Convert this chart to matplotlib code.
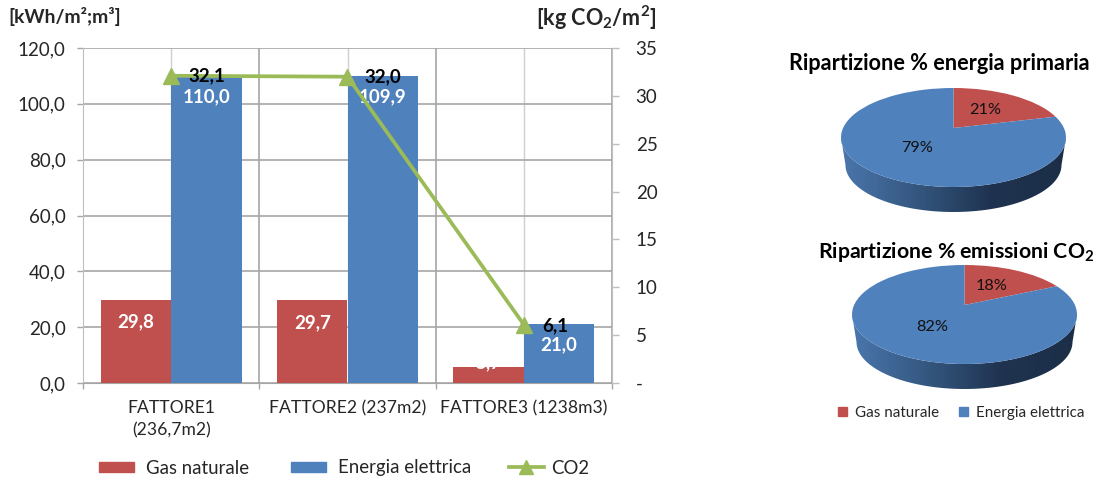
#!/usr/bin/env python
"""Consumi per fattore (barre + CO2) e due torte 3D di ripartizione."""
import numpy as np
import matplotlib
matplotlib.use("Agg")
import matplotlib.pyplot as plt
from matplotlib.colors import LinearSegmentedColormap
from matplotlib.lines import Line2D
from matplotlib.patches import Patch, Polygon
from matplotlib.transforms import Transform

plt.rcParams["font.family"] = ["Lato", "DejaVu Sans"]
plt.rcParams["mathtext.default"] = "regular"

W, H = 1097, 479
RED, BLUE, GREEN = "#C0504D", "#4F81BD", "#9BBB59"
TXT = "#262626"

categories = ["FATTORE1\n(236,7m2)", "FATTORE2 (237m2)", "FATTORE3 (1238m3)"]
gas = [29.8, 29.7, 5.7]
elettrica = [110.0, 109.9, 21.0]
co2 = [32.1, 32.0, 6.1]
left_ticks = [0, 20, 40, 60, 80, 100, 120]
left_labels = ["0,0", "20,0", "40,0", "60,0", "80,0", "100,0", "120,0"]
right_ticks = [0, 5, 10, 15, 20, 25, 30, 35]
right_labels = ["-", "5", "10", "15", "20", "25", "30", "35"]
pie_primaria = [21, 79]
pie_emissioni = [18, 82]


def lab(v):
    return f"{v:.1f}".replace(".", ",")


class Tilt(Transform):
    """Unit disc -> pixel coords, with the perspective of a tilted 3D pie."""
    input_dims = output_dims = 2
    has_inverse = False

    def __init__(self, cx, cy, rx=112.5, ry=49.5, apex=9.5):
        super().__init__()
        self.cx, self.cy, self.rx, self.ry, self.apex = cx, cy, rx, ry, apex
        self.c = apex / ry

    def transform_non_affine(self, values):
        values = np.asarray(values, dtype=float)
        u, v = values[:, 0], values[:, 1]
        den = 1 + self.c * v
        d = self.rx * np.sqrt(1 - self.c ** 2)
        x = self.cx + d * u / den
        y = self.cy - (self.ry * v + self.apex) / den
        return np.column_stack([x, y])


fig = plt.figure(figsize=(W / 100, H / 100), dpi=100)
ax = fig.add_axes([83 / W, 1 - 383 / H, (612 - 83) / W, (383 - 48) / H])
x = np.arange(3) + 0.5

ax.bar(x - 0.4, gas, 0.4, align="edge", color=RED, zorder=3)
ax.bar(x, elettrica, 0.4, align="edge", color=BLUE, zorder=3)
ax.set_xlim(0, 3)
ax.set_ylim(0, 120)
ax.set_yticks(left_ticks)
ax.set_yticklabels(left_labels)
ax.set_xticks([0, 1, 2, 3])
ax.set_xticklabels([])
ax.set_xticks(x, minor=True)
ax.set_xticklabels(categories, minor=True)
ax.grid(True, which="major", color="#A6A6A6", lw=1.2, zorder=0)
ax.grid(True, which="minor", axis="x", color="#CFCFCF", lw=1, zorder=0)
ax.tick_params(axis="x", which="major", length=4.5, color="#A6A6A6", width=1)
ax.tick_params(axis="x", which="minor", length=0, pad=12.5, labelsize=12.6, labelcolor=TXT)
ax.tick_params(axis="y", length=4, color="#A6A6A6", width=1, pad=8.5, labelsize=13.5, labelcolor=TXT)
for s in ax.spines.values():
    s.set_color("#BFBFBF")
ax.spines["top"].set_visible(False)
ax.spines["right"].set_visible(False)
ax.spines["bottom"].set_color("#A6A6A6")
ax.set_axisbelow(True)
for lbl in ax.get_xticklabels(minor=True):
    lbl.set_verticalalignment("top")
    lbl.set_linespacing(1.45)

ax2 = ax.twinx()
ax2.set_ylim(0, 35)
ax2.set_yticks(right_ticks)
ax2.set_yticklabels(right_labels)
ax2.tick_params(axis="y", length=5, color="#BFBFBF", width=1, pad=12, labelsize=13.5, labelcolor=TXT)
for s in ax2.spines.values():
    s.set_visible(False)
ax2.spines["right"].set_visible(True)
ax2.spines["right"].set_color("#BFBFBF")
ax2.plot(x, co2, "-^", color=GREEN, lw=2.7, ms=11.5, zorder=5)

# data labels
bold = dict(fontweight="bold", fontsize=13.5, ha="center", va="center")
for i in range(3):
    off = -16 if i < 2 else 3
    ax2.annotate(lab(gas[i]), (x[i] - 0.2, gas[i] * 35 / 120), xytext=(0, off),
                 textcoords="offset points", color="white", **bold)
    ax2.annotate(lab(elettrica[i]), (x[i] + 0.2, elettrica[i] * 35 / 120), xytext=(0, -15),
                 textcoords="offset points", color="white", **bold)
    # the last one sits a little left of the bar centre
    ax2.annotate(lab(co2[i]), (x[i] + 0.2, co2[i]), xytext=(0, 0) if i < 2 else (-3, -1),
                 textcoords="offset points", color="black", zorder=6, **bold)

fig.text(8 / W, 1 - 17 / H, "[kWh/m²;m³]", fontweight="bold", fontsize=13.9, color=TXT, va="center")
fig.text(536 / W, 1 - 18 / H, "[kg CO$_2$/m$^2$]", fontweight="bold", fontsize=15.5, color=TXT, va="center")

fig.legend(handles=[Patch(color=RED, label="Gas naturale"),
                    Patch(color=BLUE, label="Energia elettrica")],
           loc="center left", bbox_to_anchor=(99 / W, 1 - 468 / H), ncol=2, frameon=False,
           fontsize=13.4, labelcolor=TXT, handlelength=1.88, handleheight=0.45,
           handletextpad=0.65, columnspacing=2.25, borderpad=0, borderaxespad=0)
# CO2 gets its own legend, its text sits closer to the handle
fig.legend(handles=[Line2D([], [], color=GREEN, lw=2.7, marker="^", ms=10.5, label="CO2")],
           loc="center left", bbox_to_anchor=(509 / W, 1 - 468 / H), frameon=False,
           fontsize=13.4, labelcolor=TXT, handlelength=1.88, handletextpad=0.38,
           borderpad=0, borderaxespad=0)

# 3D pies, drawn on an overlay in pixel coords
axp = fig.add_axes([0, 0, 1, 1])
wall = LinearSegmentedColormap.from_list("wall", ["#4A76AD", "#34577F", "#1F3350", "#1C2E47"])


def pie3d(values, cx, cy):
    tilt = Tilt(cx, cy)
    # side wall
    t = np.radians(np.linspace(180, 360, 80))
    top = np.column_stack([cx + 112.5 * np.cos(t), cy - 49.5 * np.sin(t)])
    low = np.column_stack([cx + 108 * np.cos(t)[::-1], cy + 27.5 - 47 * np.sin(t)[::-1]])
    clip = Polygon(np.vstack([top, low]), closed=True, transform=axp.transData, fc="none", ec="none")
    axp.add_patch(clip)
    im = axp.imshow(np.linspace(0, 1, 200).reshape(1, -1), cmap=wall, aspect="auto",
                    extent=(cx - 112.5, cx + 112.5, cy + 80, cy - 5), zorder=1)
    im.set_clip_path(clip)
    # top face
    wedges, _, autos = axp.pie(values, colors=[RED, BLUE], startangle=90, counterclock=False,
                               autopct="%.0f%%", pctdistance=0.5,
                               textprops=dict(fontsize=11.7, color="#111111"))
    for w in wedges:
        w.set_transform(tilt + axp.transData)
        w.set_zorder(2)
    for a in autos:
        a.set_position(tilt.transform(np.array([a.get_position()]))[0])
        a.set_zorder(3)


pie3d(pie_primaria, 953.5, 137.5)
pie3d(pie_emissioni, 964.5, 314.5)
axp.set_aspect("auto")
axp.set_xlim(0, W)
axp.set_ylim(H, 0)
axp.axis("off")

fig.text(939 / W, 1 - 63 / H, "Ripartizione % energia primaria", fontweight="bold",
         fontsize=15.6, color="black", ha="center", va="center")
fig.text(956.5 / W, 1 - 252 / H, "Ripartizione % emissioni CO$_2$", fontweight="bold",
         fontsize=15.3, color="black", ha="center", va="center")

fig.legend(handles=[Patch(color=RED, label="Gas naturale"), Patch(color=BLUE, label="Energia elettrica")],
           loc="center left", bbox_to_anchor=(838 / W, 1 - 413 / H), ncol=2, frameon=False,
           fontsize=10.9, labelcolor=TXT, handlelength=0.6, handleheight=0.6,
           handletextpad=0.53, columnspacing=1.32, borderpad=0, borderaxespad=0)

fig.savefig("out.png", dpi=100)
